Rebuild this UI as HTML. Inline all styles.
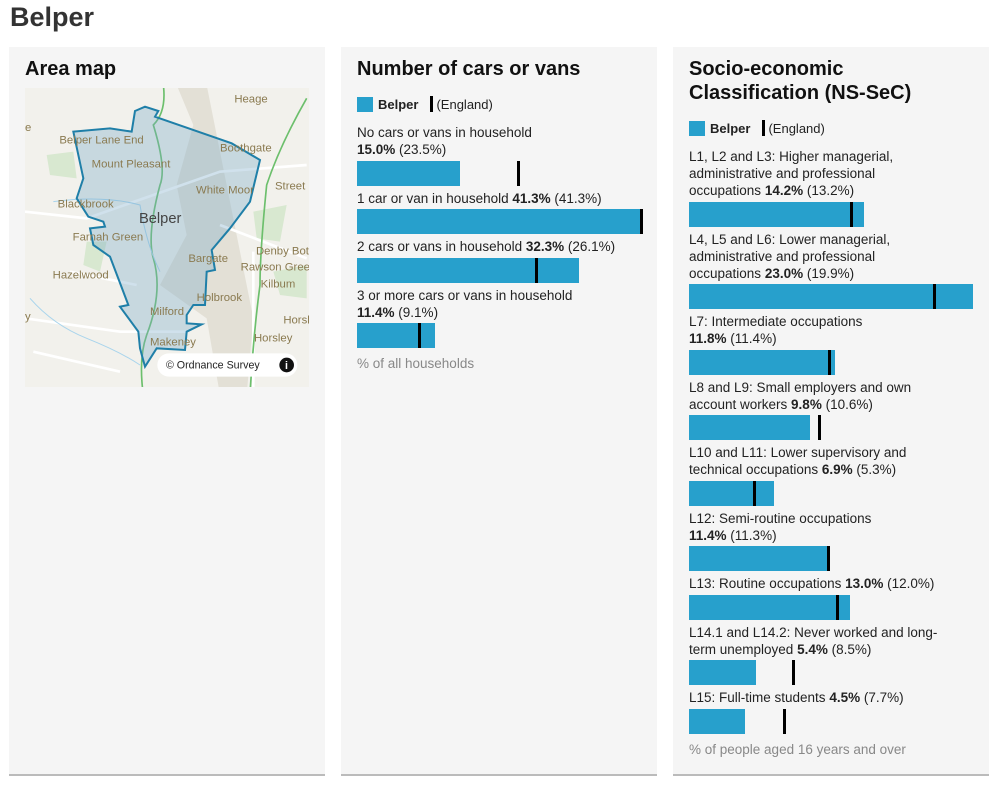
<!DOCTYPE html>
<html><head><meta charset="utf-8">
<style>
*{box-sizing:border-box;margin:0;padding:0}
body{width:999px;height:785px;background:#fff;font-family:"Liberation Sans",sans-serif;color:#222;position:relative;overflow:hidden}
h1{position:absolute;left:10px;top:2px;font-size:27px;font-weight:bold;color:#333}
.panel{position:absolute;top:47px;width:316px;height:729px;background:#f5f5f5;border-bottom:2px solid #bbb}
.panel h2{position:absolute;left:16px;top:10px;font-size:20px;font-weight:bold;line-height:24px;color:#111}
.legend{position:absolute;left:16px;font-size:13px;display:flex;align-items:center}
.sq{width:16px;height:15px;background:#27a0cc;margin-right:5px}
.mk{width:3px;height:16px;background:#000;margin:0 3px 0 12px}
.chart{position:absolute;left:16px;width:290px;font-size:13.5px;line-height:17px}
.lab{color:#222}
.bararea{position:relative;height:25px;margin:2.5px 0 4px}
.bar{position:absolute;left:0;top:0;height:25px;background:#27a0cc}
.eng{position:absolute;top:0;width:3px;height:25px;background:#000}
.foot{color:#888;font-size:13.5px;margin-top:7px}
</style></head><body>
<h1>Belper</h1>

<div class="panel" style="left:9px">
<h2>Area map</h2>
</div>
<svg style="position:absolute;left:20px;top:85px" width="300" height="310" viewBox="0 0 900 930">
<defs><clipPath id="c"><rect x="15" y="9" width="852" height="897"/></clipPath></defs>
<g clip-path="url(#c)" font-family="Liberation Sans, sans-serif" font-size="34" fill="#8a7a50">
<rect x="0" y="0" width="900" height="930" fill="#f2f1ec"/>
<path d="M470 0 L520 120 L470 300 L500 450 L420 600 L560 700 L600 930 L680 930 L700 700 L640 400 L560 0Z" fill="#e3e0d6"/>
<path d="M80 210 L160 200 L170 280 L90 270Z M200 470 L260 470 L240 560 L190 540Z M700 380 L800 360 L780 470 L710 460Z M760 560 L860 540 L860 640 L780 630Z" fill="#d8e8d0"/>
<path d="M15 380 L200 400 L400 330 L600 260 L860 240 M15 700 L300 740 L500 740 M600 420 L860 520 M700 500 L700 930 M150 560 L350 600 M40 800 L300 860" stroke="#fff" stroke-width="8" fill="none"/>
<path d="M430 0 Q440 80 400 120 Q440 250 420 300 Q380 450 400 520 Q430 620 380 750 Q355 820 370 930" stroke="#6cbf6c" stroke-width="5" fill="none"/>
<path d="M860 40 Q780 180 740 300 Q720 500 720 600 Q700 750 690 930" stroke="#6cbf6c" stroke-width="5" fill="none"/>
<path d="M100 350 Q250 330 360 360 Q380 480 420 560 M30 640 Q100 720 200 760 Q300 800 360 840" stroke="#a8d4ec" stroke-width="3" fill="none"/>
<polygon points="345,78 375,65 415,78 405,95 635,175 720,225 690,350 630,430 575,495 585,555 560,560 555,660 520,660 500,690 500,715 545,718 500,740 495,795 410,790 375,845 360,790 355,740 300,665 325,660 270,515 220,480 210,430 255,425 250,410 205,395 170,340 190,280 160,140 270,130 335,140" fill="rgba(120,170,200,0.35)" stroke="#1f7fa8" stroke-width="6"/>
<text x="643" y="52">Heage</text><text x="15" y="138">e</text>
<text x="118" y="176">Belper Lane End</text><text x="600" y="200">Boothgate</text>
<text x="215" y="248">Mount Pleasant</text><text x="765" y="313">Street L</text>
<text x="528" y="326">White Moor</text><text x="113" y="368">Blackbrook</text>
<text x="357" y="414" font-size="44" fill="#444">Belper</text>
<text x="158" y="466">Farnah Green</text><text x="708" y="508">Denby Bot</text>
<text x="505" y="531">Bargate</text><text x="662" y="556">Rawson Green</text>
<text x="98" y="580">Hazelwood</text><text x="722" y="608">Kilbum</text>
<text x="530" y="648">Holbrook</text><text x="390" y="690">Milford</text>
<text x="790" y="715">Horsl</text><text x="15" y="705">y</text><text x="702" y="770">Horsley</text>
<text x="390" y="782">Makeney</text>
<rect x="412" y="805" width="420" height="70" rx="35" fill="#fff"/>
<text x="438" y="850" font-size="32" fill="#222">© Ordnance Survey</text>
<circle cx="800" cy="840" r="22" fill="#111"/><text x="795" y="852" font-size="32" fill="#fff" font-weight="bold">i</text>
</g>
</svg>

<div class="panel" style="left:341px">
<h2>Number of cars or vans</h2>
<div class="legend" style="top:49px"><div class="sq"></div><b>Belper</b><div class="mk"></div>(England)</div>
<div class="chart" id="cars" style="top:77px"></div>
</div>

<div class="panel" style="left:673px">
<h2>Socio-economic<br>Classification (NS-SeC)</h2>
<div class="legend" style="top:73px"><div class="sq"></div><b>Belper</b><div class="mk"></div>(England)</div>
<div class="chart" id="ns" style="top:101px"></div>
</div>

<script>
const carCats=["No cars or vans in household<br>","1 car or van in household ","2 cars or vans in household ","3 or more cars or vans in household<br>"];
const carVals=[15.0,41.3,32.3,11.4];
const carEng=[23.5,41.3,26.1,9.1];
const nsCats=["L1, L2 and L3: Higher managerial,<br>administrative and professional<br>occupations ","L4, L5 and L6: Lower managerial,<br>administrative and professional<br>occupations ","L7: Intermediate occupations<br>","L8 and L9: Small employers and own<br>account workers ","L10 and L11: Lower supervisory and<br>technical occupations ","L12: Semi-routine occupations<br>","L13: Routine occupations ","L14.1 and L14.2: Never worked and long-<br>term unemployed ","L15: Full-time students "];
const nsVals=[14.2,23.0,11.8,9.8,6.9,11.4,13.0,5.4,4.5];
const nsEng=[13.2,19.9,11.4,10.6,5.3,11.3,12.0,8.5,7.7];
function build(id,cats,vals,eng,foot,prefix){
  const el=document.getElementById(id);
  const max=Math.max(...vals,...eng);
  const x=v=>v/max*284;
  cats.forEach((c,i)=>{
    const lab=document.createElement('div');lab.className='lab';
    
    
    lab.innerHTML=c+'<b>'+vals[i].toFixed(1)+'%</b> ('+eng[i].toFixed(1)+'%)';
    el.appendChild(lab);
    const a=document.createElement('div');a.className='bararea';
    const b=document.createElement('div');b.className='bar';b.style.width=x(vals[i])+'px';
    
    
    const m=document.createElement('div');m.className='eng';m.style.left=(x(eng[i])-1.5)+'px';
    
    
    a.appendChild(b);a.appendChild(m);el.appendChild(a);
  });
  const f=document.createElement('div');f.className='foot';f.textContent=foot;
  
  
  el.appendChild(f);
}
build('cars',carCats,carVals,carEng,'% of all households','cars');
build('ns',nsCats,nsVals,nsEng,'% of people aged 16 years and over','nssec');
</script>
</body></html>
